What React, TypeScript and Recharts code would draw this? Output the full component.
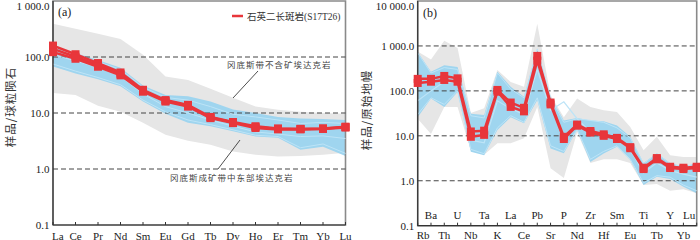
import React from 'react';
import {
  ComposedChart,
  Line,
  Area,
  XAxis,
  YAxis,
  ReferenceLine,
  ReferenceArea,
} from 'recharts';

const RED = '#e8363b';
const BLUE = '#9fd5ef';
const BLUE_LINE = '#bde4f7';
const GRAY = '#e6e6e6';
const FONT = "'Liberation Serif', 'Noto Sans CJK SC', serif";
const CJK = "'Noto Sans CJK SC', sans-serif";

// REE, chondrite normalised (panel a)
const reeElements = ['La', 'Ce', 'Pr', 'Nd', 'Sm', 'Eu', 'Gd', 'Tb', 'Dy', 'Ho', 'Er', 'Tm', 'Yb', 'Lu'];
const reeRed1 = [160, 112, 78, 53, 26, 17, 14, 8.5, 6.9, 5.8, 5.3, 5.2, 5.3, 5.7];
const reeRed2 = [140, 101, 72, 50, 25, 16.5, 13.5, 8.3, 6.8, 5.6, 5.2, 5.2, 5.25, 5.6];
const reeRed3 = [122, 93, 67, 47, 24, 16, 13, 8.1, 6.6, 5.4, 5.1, 5.1, 5.2, 5.5];
const reeGrayHigh = [393, 320, 260, 210, 110, 45, 39, 27, 18.8, 13, 11.4, 10.5, 10, 9.7];
const reeGrayLow = [22.7, 21, 13.5, 10.5, 6.7, 4.1, 3.2, 2.7, 2.06, 1.8, 1.68, 1.7, 1.8, 1.95];
const reeBlueHigh = [150, 118, 88, 64, 31, 21, 20, 16, 11.5, 10, 8.5, 8, 7.8, 7.5];
const reeBlueLow = [68, 51, 40, 30, 16, 9.7, 6.7, 5.8, 4.7, 3.8, 3.6, 2.2, 2.5, 1.7];
const reeBlue1 = [75, 56, 43, 32, 17, 10.5, 7.5, 6.2, 5, 4, 3.8, 2.4, 2.8, 1.9];
const reeBlue2 = [110, 85, 65, 45, 22, 13, 10, 7.5, 5.8, 4.6, 4.2, 3.8, 3.9, 3.5];
const reeBlue3 = [140, 110, 82, 60, 29, 19, 17, 13, 9.5, 8.5, 7.5, 6.5, 6.8, 6.5];
const reeTicks = [0.1, 1, 10, 100, 1000];

// trace elements, primitive mantle normalised (panel b)
const spiderElements = ['Rb', 'Ba', 'Th', 'U', 'Nb', 'Ta', 'K', 'La', 'Ce', 'Pb', 'Sr', 'P', 'Nd', 'Zr', 'Hf', 'Sm', 'Eu', 'Ti', 'Tb', 'Y', 'Yb', 'Lu'];
const spiderRed1 = [185, 185, 215, 190, 12.5, 13, 105, 55, 42, 600, 55, 9.5, 17.8, 12.8, 10.8, 9, 5.6, 1.95, 3.2, 2.05, 1.95, 2.05];
const spiderRed2 = [150, 160, 175, 160, 9.5, 10.5, 96, 44, 35, 470, 50, 8.5, 16.8, 11.8, 10, 8.5, 5.3, 1.82, 3, 1.92, 1.82, 1.92];
const spiderGrayHigh = [750, 500, 1300, 900, 32, 41, 290, 158, 123, 3100, 80, 26, 68, 44, 37, 34, 15.8, 4.8, 9.5, 3.7, 3.4, 3.4];
const spiderGrayLow = [24, 11, 44, 44, 4.8, 3.8, 6.8, 6.8, 8.8, 44, 1.9, 1.15, 12, 2.5, 3, 3, 2.5, 0.8, 0.85, 0.6, 0.65, 0.53];
const spiderBlueHigh = [735, 265, 370, 340, 31, 29, 265, 123, 74, 880, 74, 22, 25, 22, 21, 17, 9.5, 2.5, 4.1, 2.5, 2.05, 2.5];
const spiderBlueLow = [26, 68, 44, 95, 4.4, 3.7, 13.4, 26, 19, 62, 5.2, 4.1, 13.4, 2.6, 4.06, 5.7, 2.9, 0.8, 1.23, 1.1, 0.74, 0.53];
const spiderBlue1 = [700, 250, 330, 300, 28, 25, 250, 110, 70, 850, 70, 20, 24, 22, 20, 15, 9, 2.4, 4, 2.4, 2, 2.4];
const spiderBlue2 = [30, 70, 50, 100, 5, 4, 15, 28, 20, 70, 6, 4.5, 14, 3, 4.5, 6, 3, 0.9, 1.3, 1.2, 0.8, 0.6];
const spiderBlue3 = [60, 100, 160, 150, 8, 7, 60, 40, 30, 300, 37, 57, 24, 12, 10, 9, 5, 1.5, 2.5, 1.7, 1.4, 1.2];
const spiderTicks = [0.1, 1, 10, 100, 1000, 10000];

const reeRows = reeElements.map((el, i) => ({
  el,
  gray: [reeGrayLow[i], reeGrayHigh[i]],
  blue: [reeBlueLow[i], reeBlueHigh[i]],
  b1: reeBlue1[i],
  b2: reeBlue2[i],
  b3: reeBlue3[i],
  r1: reeRed1[i],
  r2: reeRed2[i],
  r3: reeRed3[i],
}));

const spiderRows = spiderElements.map((el, i) => ({
  el,
  gray: [spiderGrayLow[i], spiderGrayHigh[i]],
  blue: [spiderBlueLow[i], spiderBlueHigh[i]],
  b1: spiderBlue1[i],
  b2: spiderBlue2[i],
  b3: spiderBlue3[i],
  r1: spiderRed1[i],
  r2: spiderRed2[i],
}));

// 1000 -> "1 000.0", 0.1 -> "0.1"
const fmtLog = (v: number) => {
  if (v < 1) return String(v);
  const [int, dec] = v.toFixed(1).split('.');
  return int.replace(/\B(?=(\d{3})+(?!\d))/g, ' ') + '.' + dec;
};

const squareDot = (props: any) => {
  const { cx, cy, index, dataKey } = props;
  const key = `${dataKey}-${index}`;
  if (cx == null || cy == null) return <g key={key} />;
  return <rect key={key} x={cx - 4} y={cy - 4} width={8} height={8} fill={RED} />;
};

const YTick = (props: any) => {
  const { x, y, payload } = props;
  return (
    <text x={x - 3.5} y={Math.max(y, 6) + 4} textAnchor="end" fontSize={11} fontFamily={FONT} fill="#222">
      {fmtLog(payload.value)}
    </text>
  );
};

const ReeTick = (props: any) => {
  const { x, y, payload, index } = props;
  const first = index === 0;
  return (
    <g>
      <line x1={x} x2={x} y1={y - 3} y2={y} stroke="#333" />
      <text x={first ? x - 1 : x} y={y + 14.5} textAnchor={first ? 'start' : 'middle'} fontSize={11} fontFamily={FONT} fill="#222">
        {payload.value}
      </text>
    </g>
  );
};

const SpiderTick = (props: any) => {
  const { x, y, payload, index } = props;
  const upper = index % 2 === 1;
  const first = index === 0;
  const last = index === spiderElements.length - 1;
  const anchor = first ? 'start' : last ? 'end' : 'middle';
  return (
    <g>
      <line x1={x} x2={x} y1={y - 3} y2={y} stroke="#333" />
      <text x={first ? x - 1 : last ? x - 1.5 : x} y={upper ? y - 6.5 : y + 13} textAnchor={anchor} fontSize={11} fontFamily={FONT} fill="#222">
        {payload.value}
      </text>
    </g>
  );
};

const ReeChart = () => (
  <ComposedChart width={355} height={240} data={reeRows} margin={{ top: 1, right: 9.5, bottom: 0, left: 0 }}>
    <XAxis dataKey="el" scale="point" padding={{ left: 0, right: 0 }} interval={0} height={15}
      tickSize={0} tickMargin={0} tickLine={false} axisLine={{ stroke: '#333', strokeWidth: 1.2 }} tick={ReeTick} />
    <YAxis type="number" scale="log" domain={[0.1, 1000]} ticks={reeTicks} allowDataOverflow interval={0} width={53}
      tickSize={0} tickMargin={0} tickLine={false} axisLine={{ stroke: '#333', strokeWidth: 1.2 }} tick={YTick} />
    <Area dataKey="gray" type="linear" stroke="none" fill={GRAY} fillOpacity={1} isAnimationActive={false} />
    <ReferenceLine y={1} stroke="#444" strokeDasharray="5 3" />
    <ReferenceLine y={10} stroke="#444" strokeDasharray="5 3" />
    <ReferenceLine y={100} stroke="#444" strokeDasharray="5 3" />
    <Area dataKey="blue" type="linear" stroke="none" fill={BLUE} fillOpacity={1} isAnimationActive={false} />
    <Line dataKey="b1" type="linear" stroke={BLUE_LINE} strokeWidth={1} dot={false} isAnimationActive={false} />
    <Line dataKey="b2" type="linear" stroke={BLUE_LINE} strokeWidth={1} dot={false} isAnimationActive={false} />
    <Line dataKey="b3" type="linear" stroke={BLUE_LINE} strokeWidth={1} dot={false} isAnimationActive={false} />
    <Line dataKey="r1" type="linear" stroke={RED} strokeWidth={2.5} dot={squareDot} isAnimationActive={false} />
    <Line dataKey="r2" type="linear" stroke={RED} strokeWidth={2.5} dot={squareDot} isAnimationActive={false} />
    <Line dataKey="r3" type="linear" stroke={RED} strokeWidth={2.5} dot={squareDot} isAnimationActive={false} />
    <ReferenceArea x1="La" x2="Lu" y1={0.1} y2={1000} fill="none" stroke="#8a8a8a" strokeWidth={1.6} />
  </ComposedChart>
);

const SpiderChart = () => (
  <ComposedChart width={345} height={240} data={spiderRows} margin={{ top: 1, right: 3.3, bottom: 0, left: 0 }}>
    <XAxis dataKey="el" scale="point" padding={{ left: 0, right: 0 }} interval={0} height={14.3}
      tickSize={0} tickMargin={0} tickLine={false} axisLine={{ stroke: '#333', strokeWidth: 1.2 }} tick={SpiderTick} />
    <YAxis type="number" scale="log" domain={[0.1, 10000]} ticks={spiderTicks} allowDataOverflow interval={0} width={62.7}
      tickSize={0} tickMargin={0} tickLine={false} axisLine={{ stroke: '#333', strokeWidth: 1.2 }} tick={YTick} />
    <Area dataKey="gray" type="linear" stroke="none" fill={GRAY} fillOpacity={1} isAnimationActive={false} />
    <ReferenceLine y={1} stroke="#444" strokeDasharray="5 3" />
    <ReferenceLine y={10} stroke="#444" strokeDasharray="5 3" />
    <ReferenceLine y={100} stroke="#444" strokeDasharray="5 3" />
    <ReferenceLine y={1000} stroke="#444" strokeDasharray="5 3" />
    <Area dataKey="blue" type="linear" stroke="none" fill={BLUE} fillOpacity={1} isAnimationActive={false} />
    <Line dataKey="b1" type="linear" stroke={BLUE_LINE} strokeWidth={1} dot={false} isAnimationActive={false} />
    <Line dataKey="b2" type="linear" stroke={BLUE_LINE} strokeWidth={1} dot={false} isAnimationActive={false} />
    <Line dataKey="b3" type="linear" stroke={BLUE_LINE} strokeWidth={1.2} dot={false} isAnimationActive={false} />
    <Line dataKey="r1" type="linear" stroke={RED} strokeWidth={2.5} dot={squareDot} isAnimationActive={false} />
    <Line dataKey="r2" type="linear" stroke={RED} strokeWidth={2.5} dot={squareDot} isAnimationActive={false} />
    <ReferenceArea x1="Rb" x2="Lu" y1={0.1} y2={10000} fill="none" stroke="#8a8a8a" strokeWidth={1.6} />
  </ComposedChart>
);

// labels, legend and leader lines drawn over both panels
const Overlay = () => (
  <svg width={700} height={240} style={{ position: 'absolute', left: 0, top: 0, pointerEvents: 'none' }}>
    <text x={58} y={16} fontSize={12} fontFamily={FONT} fill="#222">(a)</text>
    <text x={423} y={17} fontSize={12} fontFamily={FONT} fill="#222">(b)</text>
    <text x={10} y={107} transform="rotate(-90 10 107)" textAnchor="middle" dominantBaseline="central"
      fontSize={11.5} fontFamily={CJK} fill="#333" letterSpacing={1}>样品/球粒陨石</text>
    <text x={366} y={110} transform="rotate(-90 366 110)" textAnchor="middle" dominantBaseline="central"
      fontSize={11.5} fontFamily={CJK} fill="#333" letterSpacing={1}>样品/原始地幔</text>
    <line x1={232} x2={243} y1={16} y2={16} stroke={RED} strokeWidth={2.5} />
    <text x={247} y={19.5} fontSize={9.5} fontFamily={FONT} fill="#333">石英二长斑岩(S17T26)</text>
    <text x={227} y={68} fontSize={8.5} fontFamily={CJK} fill="#444" letterSpacing={1}>冈底斯带不含矿埃达克岩</text>
    <line x1={258} y1={71} x2={233} y2={98} stroke="#222" strokeWidth={0.8} />
    <text x={170} y={181} fontSize={8.5} fontFamily={CJK} fill="#444" letterSpacing={1}>冈底斯成矿带中东部埃达克岩</text>
    <line x1={218} y1={169} x2={240} y2={140} stroke="#222" strokeWidth={0.8} />
  </svg>
);

export default function App() {
  return (
    <div style={{ position: 'absolute', left: 0, top: 0, width: 700, height: 240, background: '#fff', overflow: 'hidden' }}>
      <div style={{ position: 'absolute', left: 0, top: 0 }}>
        <ReeChart />
      </div>
      <div style={{ position: 'absolute', left: 355, top: 0 }}>
        <SpiderChart />
      </div>
      <Overlay />
    </div>
  );
}
